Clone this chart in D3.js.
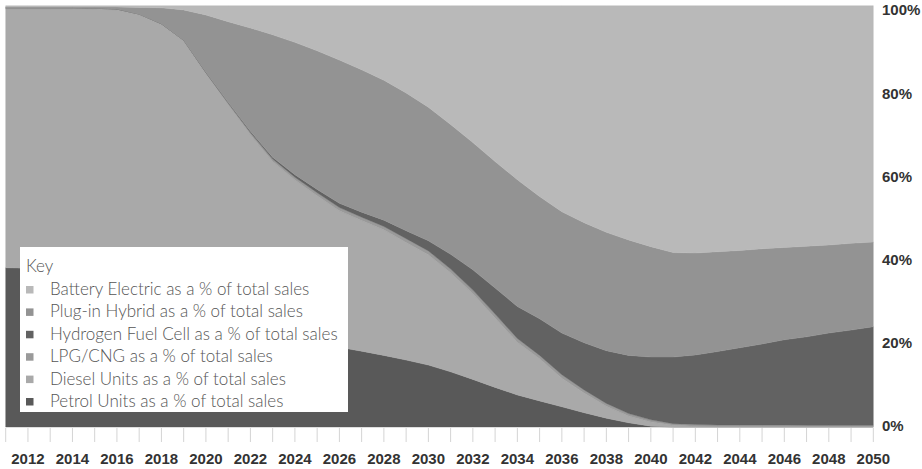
<!DOCTYPE html>
<html lang="en">
<head>
    <title>Vehicle sales share by fuel type</title>
    <meta charset="UTF-8">
    <script src="https://cdn.jsdelivr.net/npm/d3@7"></script>
    <style>
      body { margin: 0; background: #fff; }
      .tick-label { font-family: "Liberation Sans Narrow", "Liberation Sans", sans-serif; font-weight: bold; font-size: 15px; fill: #333; }
      .key text { font-family: Lato, "Open Sans", sans-serif; font-weight: 300; font-size: 17px; fill: #555; }
    </style>
</head>
<body>
<svg id="chart" width="922" height="469"></svg>

<script type="text/javascript">

// one value per year, 2011..2050, in % of total sales
var years = d3.range(2011, 2051);

var petrol = [37.8, 37.7, 37.0, 36.0, 35.0, 34.0, 32.0, 30.0, 28.0, 26.0,
              24.5, 23.0, 21.5, 20.5, 19.6, 18.9, 18.0, 17.0, 15.9, 14.7,
              13.1, 11.3, 9.4, 7.6, 6.2, 4.8, 3.4, 2.1, 1.0, 0.2,
              0, 0, 0, 0, 0, 0, 0, 0, 0, 0];
var diesel = [61.5, 61.6, 62.3, 63.3, 64.2, 65.0, 65.8, 65.5, 63.6, 57.8,
              52.0, 46.4, 41.5, 38.1, 35.3, 32.4, 31.0, 29.8, 27.9, 26.2,
              23.5, 20.3, 16.5, 12.5, 10.0, 6.8, 4.7, 2.8, 1.6, 1.0,
              0.4, 0.2, 0.1, 0.1, 0.1, 0.1, 0.1, 0.1, 0.1, 0.1];
var lpg = [0.2, 0.2, 0.2, 0.2, 0.2, 0.2, 0.2, 0.2, 0.2, 0.3,
           0.4, 0.5, 0.6, 0.7, 0.7, 0.8, 0.8, 0.8, 0.9, 0.9,
           0.9, 0.9, 0.9, 0.9, 0.8, 0.8, 0.7, 0.7, 0.6, 0.5,
           0.4, 0.4, 0.4, 0.4, 0.4, 0.4, 0.3, 0.3, 0.3, 0.3];
var hydrogen = [0, 0, 0, 0, 0, 0, 0, 0, 0, 0.1,
                0.2, 0.3, 0.4, 0.6, 0.8, 1.0, 1.2, 1.5, 1.9, 2.4,
                3.5, 4.8, 6.2, 7.6, 8.7, 9.9, 11.2, 12.5, 13.8, 14.9,
                15.8, 16.5, 17.4, 18.3, 19.2, 20.2, 21.0, 21.9, 22.6, 23.4];
var plugin = [0.2, 0.2, 0.2, 0.2, 0.3, 0.5, 1.6, 3.8, 7.2, 13.6,
              19.1, 24.5, 29.1, 31.4, 32.9, 34.0, 33.8, 33.2, 32.7, 31.7,
              30.8, 30.2, 30.0, 30.1, 29.0, 28.8, 28.5, 28.1, 27.4, 26.2,
              24.8, 24.2, 23.7, 23.1, 22.6, 21.9, 21.5, 20.9, 20.6, 20.1];
var battery = [0.3, 0.3, 0.3, 0.3, 0.3, 0.3, 0.4, 0.5, 1.0, 2.2,
               3.8, 5.3, 6.9, 8.7, 10.7, 12.9, 15.2, 17.7, 20.7, 24.1,
               28.2, 32.5, 37.0, 41.3, 45.3, 48.9, 51.5, 53.8, 55.6, 57.2,
               58.6, 58.7, 58.4, 58.1, 57.7, 57.4, 57.1, 56.8, 56.4, 56.1];

// bottom of the stack first
var seriesKeys = ["petrol", "diesel", "lpg", "hydrogen", "plugin", "battery"];
var seriesNames = {
    battery: "Battery Electric as a % of total sales",
    plugin: "Plug-in Hybrid as a % of total sales",
    hydrogen: "Hydrogen Fuel Cell as a % of total sales",
    lpg: "LPG/CNG as a % of total sales",
    diesel: "Diesel Units as a % of total sales",
    petrol: "Petrol Units as a % of total sales"
};
var legendOrder = ["battery", "plugin", "hydrogen", "lpg", "diesel", "petrol"];
var yTicks = [0, 20, 40, 60, 80, 100];

var colors = {
    battery: "#b9b9b9",
    plugin: "#939393",
    hydrogen: "#626262",
    lpg: "#9a9a9a",
    diesel: "#a9a9a9",
    petrol: "#595959"
};

var values = {petrol: petrol, diesel: diesel, lpg: lpg, hydrogen: hydrogen, plugin: plugin, battery: battery};
var rows = years.map(function(yr, i) {
    var r = {year: yr};
    seriesKeys.forEach(function(k) { r[k] = values[k][i]; });
    return r;
});

var svg = d3.select("#chart");

var x = d3.scaleLinear().domain([2011, 2050]).range([5.7, 873.3]);
var y = d3.scaleLinear().domain([0, 100]).range([427, 5.7]);
// the percent labels sit a little inside the plotted range
var yLabel = d3.scaleLinear().domain([0, 100]).range([426, 10]);

var stack = d3.stack().keys(seriesKeys).order(d3.stackOrderNone).offset(d3.stackOffsetNone);
var layers = stack(rows);

var area = d3.area()
    .x(function(d) { return x(d.data.year); })
    .y0(function(d) { return y(d[0]); })
    .y1(function(d) { return y(d[1]); });

svg.append("g").selectAll("path")
    .data(layers)
    .enter().append("path")
    .attr("d", area)
    .attr("fill", function(d) { return colors[d.key]; })
    .attr("stroke", function(d) { return colors[d.key]; })
    .attr("stroke-width", 0.4);

// year ticks
svg.append("g").selectAll("line")
    .data(years)
    .enter().append("line")
    .attr("x1", function(d) { return x(d); })
    .attr("x2", function(d) { return x(d); })
    .attr("y1", 428)
    .attr("y2", 442)
    .attr("stroke", "#d4d4d4")
    .attr("stroke-width", 1);

svg.append("g").selectAll("text")
    .data(years.filter(function(d) { return d % 2 === 0; }))
    .enter().append("text")
    .attr("class", "tick-label")
    .attr("x", function(d) { return x(d); })
    .attr("y", 464)
    .attr("text-anchor", "middle")
    .text(function(d) { return d; });

svg.append("g").selectAll("text")
    .data(yTicks)
    .enter().append("text")
    .attr("class", "tick-label")
    .attr("x", 882)
    .attr("y", function(d) { return yLabel(d); })
    .attr("dy", "0.36em")
    .text(function(d) { return d + "%"; });

// key
var key = svg.append("g").attr("class", "key");
key.append("rect")
    .attr("x", 20).attr("y", 247)
    .attr("width", 328).attr("height", 165)
    .attr("fill", "#fff");
key.append("text").attr("x", 26).attr("y", 272).text("Key");

var item = key.selectAll("g.item")
    .data(legendOrder)
    .enter().append("g")
    .attr("class", "item")
    .attr("transform", function(d, i) { return "translate(0," + (295 + i * 22.4) + ")"; });
item.append("rect")
    .attr("x", 26).attr("y", -9)
    .attr("width", 7.5).attr("height", 7.5)
    .attr("fill", function(d) { return colors[d]; });
item.append("text")
    .attr("x", 50)
    .text(function(d) { return seriesNames[d]; });

</script>
</body>
</html>
